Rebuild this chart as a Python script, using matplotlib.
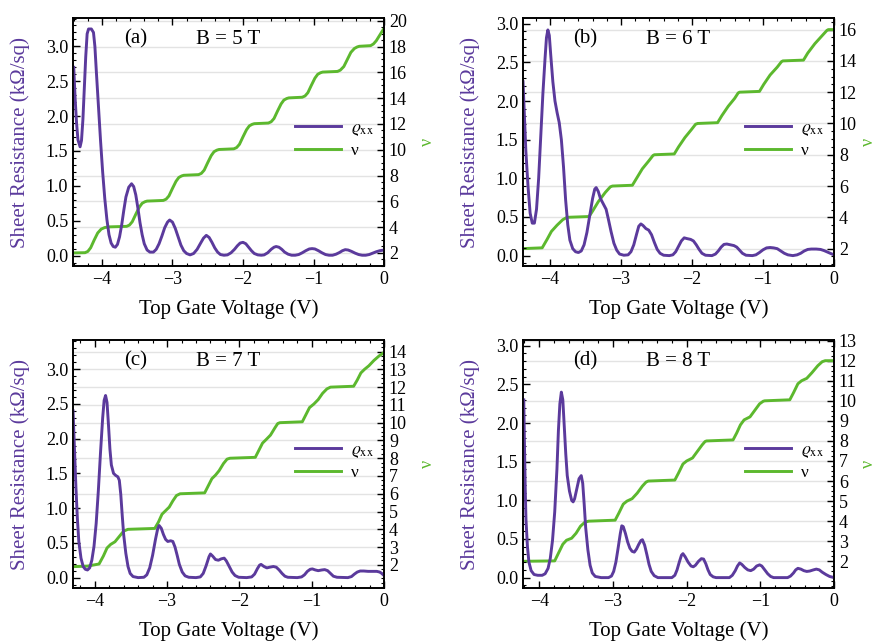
import numpy as np
import matplotlib
matplotlib.use("Agg")
import matplotlib.pyplot as plt
from matplotlib.ticker import MultipleLocator

plt.rcParams['font.family'] = ['Liberation Serif', 'DejaVu Serif']
plt.rcParams['mathtext.fontset'] = 'stix'

PURPLE = '#5b3a9c'
GREEN = '#5cb82e'

# ---- panel (a) B = 5 T ----
x_rho_a = [-4.40, -4.38, -4.36, -4.34, -4.31, -4.29, -4.27, -4.25, -4.23, -4.21, -4.19, -4.15,
           -4.12, -4.10, -4.08, -4.05, -4.02, -3.99, -3.96, -3.93, -3.90, -3.87, -3.84, -3.81,
           -3.78, -3.75, -3.72, -3.69, -3.66, -3.62, -3.58, -3.55, -3.52, -3.49, -3.46, -3.43,
           -3.40, -3.36, -3.32, -3.27, -3.23, -3.19, -3.15, -3.11, -3.07, -3.04, -3.00, -2.96,
           -2.92, -2.88, -2.84, -2.80, -2.75, -2.70, -2.65, -2.60, -2.56, -2.52, -2.48, -2.44,
           -2.40, -2.36, -2.32, -2.27, -2.22, -2.17, -2.12, -2.08, -2.04, -2.00, -1.96, -1.92,
           -1.88, -1.84, -1.79, -1.74, -1.70, -1.65, -1.60, -1.56, -1.53, -1.49, -1.45, -1.41,
           -1.36, -1.31, -1.26, -1.21, -1.16, -1.11, -1.06, -1.02, -0.98, -0.93, -0.88, -0.83,
           -0.78, -0.73, -0.68, -0.63, -0.59, -0.55, -0.51, -0.46, -0.41, -0.36, -0.31, -0.26,
           -0.21, -0.16, -0.11, -0.06, -0.03, 0.0]
rho_a = [2.7, 2.25, 1.9, 1.66, 1.56, 1.65, 1.95, 2.4, 2.85, 3.18, 3.25, 3.25,
         3.2, 3.0, 2.65, 2.15, 1.65, 1.2, 0.82, 0.52, 0.3, 0.18, 0.13, 0.12,
         0.16, 0.27, 0.44, 0.65, 0.84, 0.98, 1.03, 0.99, 0.87, 0.68, 0.47, 0.3,
         0.17, 0.08, 0.05, 0.05, 0.09, 0.17, 0.28, 0.4, 0.48, 0.51, 0.48, 0.39,
         0.27, 0.15, 0.07, 0.03, 0.01, 0.03, 0.09, 0.18, 0.25, 0.29, 0.26, 0.19,
         0.11, 0.05, 0.015, 0.005, 0.01, 0.04, 0.09, 0.14, 0.18, 0.19, 0.17, 0.12,
         0.07, 0.03, 0.01, 0.005, 0.01, 0.04, 0.09, 0.12, 0.13, 0.12, 0.09, 0.05,
         0.02, 0.005, 0.005, 0.015, 0.04, 0.07, 0.095, 0.10, 0.095, 0.07, 0.04, 0.015,
         0.005, 0.005, 0.02, 0.045, 0.07, 0.085, 0.08, 0.06, 0.035, 0.015, 0.005, 0.005,
         0.015, 0.035, 0.055, 0.07, 0.075, 0.078]
x_nu_a = [-4.41, -4.24, -4.20, -4.16, -4.11, -4.06, -4.01, -3.96, -3.90, -3.65, -3.61, -3.57,
          -3.52, -3.47, -3.43, -3.39, -3.36, -3.13, -3.09, -3.05, -3.00, -2.95, -2.91, -2.87,
          -2.84, -2.63, -2.59, -2.55, -2.50, -2.45, -2.41, -2.37, -2.34, -2.13, -2.09, -2.05,
          -2.00, -1.95, -1.91, -1.87, -1.84, -1.64, -1.60, -1.56, -1.51, -1.46, -1.42, -1.38,
          -1.35, -1.16, -1.12, -1.08, -1.03, -0.98, -0.94, -0.90, -0.87, -0.66, -0.62, -0.57,
          -0.52, -0.47, -0.42, -0.38, -0.35, -0.19, -0.15, -0.11, -0.07, -0.03, 0.0]
nu_a = [2.0, 2.02, 2.12, 2.4, 3.0, 3.55, 3.85, 3.97, 4.02, 4.06, 4.16, 4.42,
        5.0, 5.55, 5.85, 5.97, 6.02, 6.07, 6.17, 6.42, 7.0, 7.55, 7.85, 7.97,
        8.02, 8.07, 8.17, 8.42, 9.0, 9.55, 9.85, 9.97, 10.02, 10.07, 10.17, 10.42,
        11.0, 11.55, 11.85, 11.97, 12.02, 12.07, 12.17, 12.42, 13.0, 13.55, 13.85, 13.97,
        14.02, 14.07, 14.17, 14.42, 15.0, 15.55, 15.85, 15.97, 16.02, 16.07, 16.17, 16.45,
        17.0, 17.55, 17.85, 17.97, 18.02, 18.07, 18.2, 18.45, 18.8, 19.15, 19.4]

# ---- panel (b) B = 6 T ----
x_rho_b = [-4.38, -4.36, -4.34, -4.31, -4.28, -4.25, -4.22, -4.19, -4.16, -4.13, -4.10, -4.07,
           -4.05, -4.03, -4.01, -3.99, -3.96, -3.93, -3.90, -3.87, -3.84, -3.81, -3.78, -3.75,
           -3.72, -3.68, -3.64, -3.60, -3.56, -3.52, -3.48, -3.44, -3.40, -3.37, -3.35, -3.32,
           -3.29, -3.25, -3.21, -3.18, -3.14, -3.10, -3.06, -3.02, -2.96, -2.90, -2.86, -2.82,
           -2.78, -2.75, -2.72, -2.69, -2.65, -2.61, -2.57, -2.53, -2.49, -2.45, -2.40, -2.32,
           -2.27, -2.23, -2.19, -2.15, -2.11, -2.07, -2.02, -1.98, -1.94, -1.90, -1.86, -1.81,
           -1.72, -1.67, -1.63, -1.59, -1.55, -1.51, -1.46, -1.41, -1.37, -1.33, -1.29, -1.24,
           -1.15, -1.10, -1.05, -1.00, -0.95, -0.90, -0.85, -0.80, -0.75, -0.70, -0.65, -0.58,
           -0.52, -0.47, -0.42, -0.37, -0.32, -0.25, -0.19, -0.14, -0.09, -0.04, 0.0]
rho_b = [2.25, 1.8, 1.35, 0.9, 0.55, 0.42, 0.42, 0.6, 1.0, 1.55, 2.1, 2.55,
         2.82, 2.92, 2.85, 2.6, 2.25, 2.0, 1.85, 1.72, 1.5, 1.15, 0.72, 0.4,
         0.2, 0.09, 0.05, 0.04, 0.06, 0.14, 0.3, 0.52, 0.74, 0.86, 0.88, 0.83,
         0.74, 0.67, 0.6, 0.48, 0.31, 0.16, 0.07, 0.02, 0.005, 0.01, 0.05, 0.14,
         0.28, 0.38, 0.41, 0.39, 0.35, 0.33, 0.27, 0.17, 0.08, 0.03, 0.005, 0.0,
         0.01, 0.05, 0.12, 0.19, 0.23, 0.22, 0.21, 0.19, 0.14, 0.08, 0.03, 0.005,
         0.0, 0.02, 0.06, 0.11, 0.145, 0.15, 0.14, 0.13, 0.11, 0.07, 0.03, 0.005,
         0.0, 0.01, 0.04, 0.075, 0.1, 0.105, 0.1, 0.09, 0.06, 0.03, 0.01, 0.0,
         0.01, 0.03, 0.06, 0.08, 0.085, 0.085, 0.08, 0.065, 0.045, 0.025, 0.01]
x_nu_b = [-4.38, -4.11, -4.04, -3.98, -3.90, -3.82, -3.76, -3.45, -3.40, -3.32, -3.22, -3.15,
          -3.12, -2.84, -2.78, -2.70, -2.61, -2.55, -2.53, -2.25, -2.19, -2.10, -2.01, -1.95,
          -1.92, -1.64, -1.58, -1.49, -1.40, -1.35, -1.33, -1.05, -0.99, -0.90, -0.80, -0.74,
          -0.72, -0.43, -0.37, -0.27, -0.17, -0.10, -0.08, 0.0]
nu_b = [2.0, 2.05, 2.6, 3.1, 3.5, 3.85, 4.0, 4.05, 4.4, 5.0, 5.6, 5.95,
        6.0, 6.05, 6.5, 7.1, 7.6, 7.95, 8.0, 8.05, 8.5, 9.1, 9.6, 9.95,
        10.0, 10.05, 10.5, 11.1, 11.6, 11.95, 12.0, 12.05, 12.5, 13.1, 13.6, 13.95,
        14.0, 14.05, 14.5, 15.1, 15.6, 15.95, 16.0, 16.0]

# ---- panel (c) B = 7 T ----
x_rho_c = [-4.30, -4.28, -4.26, -4.24, -4.22, -4.19, -4.16, -4.13, -4.10, -4.07, -4.04, -4.01,
           -3.98, -3.95, -3.92, -3.89, -3.87, -3.85, -3.83, -3.81, -3.79, -3.77, -3.74, -3.71,
           -3.68, -3.66, -3.64, -3.62, -3.60, -3.57, -3.54, -3.51, -3.47, -3.40, -3.32, -3.28,
           -3.24, -3.20, -3.16, -3.13, -3.11, -3.08, -3.05, -3.02, -2.99, -2.95, -2.92, -2.89,
           -2.86, -2.83, -2.79, -2.75, -2.70, -2.60, -2.54, -2.50, -2.46, -2.42, -2.40, -2.37,
           -2.33, -2.29, -2.25, -2.21, -2.18, -2.14, -2.10, -2.06, -2.01, -1.90, -1.83, -1.79,
           -1.75, -1.72, -1.70, -1.66, -1.62, -1.58, -1.53, -1.49, -1.45, -1.41, -1.37, -1.33,
           -1.20, -1.14, -1.10, -1.06, -1.02, -0.99, -0.95, -0.91, -0.86, -0.82, -0.78, -0.74,
           -0.70, -0.65, -0.50, -0.45, -0.41, -0.37, -0.33, -0.28, -0.22, -0.16, -0.10, -0.06,
           -0.03, 0.0]
rho_c = [2.4, 1.85, 1.3, 0.85, 0.52, 0.28, 0.16, 0.12, 0.11, 0.14, 0.25, 0.45,
         0.78, 1.25, 1.8, 2.3, 2.55, 2.62, 2.52, 2.2, 1.85, 1.62, 1.5, 1.47,
         1.45, 1.4, 1.2, 0.9, 0.62, 0.35, 0.16, 0.06, 0.015, 0.0, 0.005, 0.04,
         0.14, 0.32, 0.55, 0.7, 0.75, 0.71, 0.62, 0.55, 0.52, 0.53, 0.52, 0.44,
         0.32, 0.19, 0.08, 0.025, 0.005, 0.0, 0.01, 0.06, 0.17, 0.3, 0.34, 0.31,
         0.26, 0.25, 0.27, 0.28, 0.24, 0.16, 0.08, 0.03, 0.005, 0.0, 0.01, 0.05,
         0.13, 0.18, 0.19, 0.16, 0.14, 0.15, 0.16, 0.15, 0.11, 0.06, 0.02, 0.005,
         0.0, 0.01, 0.04, 0.09, 0.12, 0.125, 0.11, 0.1, 0.11, 0.115, 0.1, 0.06,
         0.02, 0.005, 0.0, 0.015, 0.05, 0.08, 0.095, 0.095, 0.09, 0.09, 0.09, 0.08,
         0.06, 0.03]
x_nu_c = [-4.30, -4.10, -3.94, -3.88, -3.83, -3.78, -3.72, -3.66, -3.60, -3.54, -3.17, -3.12,
          -3.07, -3.02, -2.97, -2.92, -2.87, -2.82, -2.48, -2.43, -2.38, -2.33, -2.28, -2.22,
          -2.17, -2.13, -1.78, -1.73, -1.68, -1.63, -1.57, -1.51, -1.47, -1.44, -1.13, -1.08,
          -1.03, -0.97, -0.91, -0.85, -0.79, -0.74, -0.42, -0.37, -0.32, -0.27, -0.21, -0.14,
          -0.07, 0.0]
nu_c = [1.9, 1.93, 2.05, 2.5, 2.95, 3.15, 3.3, 3.6, 3.9, 4.0, 4.05, 4.4,
        4.85, 5.05, 5.25, 5.6, 5.9, 6.0, 6.05, 6.45, 6.85, 7.05, 7.3, 7.7,
        7.95, 8.0, 8.05, 8.45, 8.85, 9.05, 9.3, 9.7, 9.95, 10.0, 10.05, 10.45,
        10.85, 11.05, 11.3, 11.65, 11.9, 12.0, 12.05, 12.4, 12.8, 13.0, 13.2, 13.5,
        13.75, 13.95]

# ---- panel (d) B = 8 T ----
x_rho_d = [-4.21, -4.20, -4.19, -4.18, -4.16, -4.14, -4.11, -4.07, -4.02, -3.96, -3.92, -3.88,
           -3.85, -3.82, -3.79, -3.76, -3.74, -3.72, -3.70, -3.68, -3.66, -3.64, -3.62, -3.59,
           -3.56, -3.54, -3.52, -3.49, -3.46, -3.43, -3.41, -3.39, -3.37, -3.34, -3.31, -3.28,
           -3.24, -3.16, -3.06, -3.02, -2.99, -2.96, -2.93, -2.90, -2.88, -2.86, -2.83, -2.80,
           -2.77, -2.74, -2.71, -2.68, -2.65, -2.62, -2.60, -2.57, -2.54, -2.51, -2.48, -2.44,
           -2.39, -2.20, -2.16, -2.13, -2.10, -2.07, -2.05, -2.02, -1.98, -1.94, -1.91, -1.88,
           -1.84, -1.80, -1.77, -1.74, -1.71, -1.68, -1.64, -1.60, -1.42, -1.38, -1.34, -1.31,
           -1.28, -1.25, -1.21, -1.17, -1.13, -1.09, -1.05, -1.01, -0.98, -0.94, -0.90, -0.86,
           -0.82, -0.63, -0.59, -0.55, -0.52, -0.49, -0.45, -0.41, -0.37, -0.33, -0.28, -0.24,
           -0.20, -0.16, -0.11, -0.06, 0.0]
rho_d = [2.3, 1.7, 1.15, 0.75, 0.4, 0.2, 0.09, 0.04, 0.03, 0.03, 0.05, 0.12,
         0.25, 0.48, 0.85, 1.4, 1.9, 2.25, 2.4, 2.3, 1.95, 1.6, 1.32, 1.12,
         1.0, 0.98, 1.02, 1.15, 1.28, 1.32, 1.22, 0.95, 0.65, 0.36, 0.16, 0.06,
         0.015, 0.0, 0.0, 0.02, 0.08, 0.2, 0.38, 0.57, 0.67, 0.66, 0.57, 0.46,
         0.38, 0.34, 0.33, 0.37, 0.43, 0.48, 0.49, 0.42, 0.3, 0.17, 0.08, 0.025,
         0.0, 0.0, 0.03, 0.1, 0.2, 0.29, 0.31, 0.27, 0.2, 0.15, 0.14, 0.16,
         0.21, 0.245, 0.24, 0.18, 0.1, 0.04, 0.01, 0.0, 0.0, 0.03, 0.09, 0.15,
         0.19, 0.17, 0.13, 0.1, 0.09, 0.11, 0.15, 0.165, 0.15, 0.1, 0.05, 0.015,
         0.0, 0.0, 0.02, 0.06, 0.1, 0.12, 0.11, 0.09, 0.08, 0.085, 0.1, 0.11,
         0.1, 0.07, 0.04, 0.015, 0.0]
x_nu_d = [-4.21, -3.79, -3.74, -3.68, -3.63, -3.56, -3.50, -3.44, -3.38, -3.33, -2.97, -2.92,
          -2.86, -2.81, -2.74, -2.67, -2.60, -2.55, -2.52, -2.16, -2.11, -2.05, -2.00, -1.92,
          -1.86, -1.79, -1.75, -1.73, -1.37, -1.32, -1.27, -1.22, -1.14, -1.08, -1.01, -0.96,
          -0.94, -0.60, -0.55, -0.49, -0.44, -0.37, -0.30, -0.22, -0.16, -0.12, 0.0]
nu_d = [2.0, 2.02, 2.4, 2.85, 3.05, 3.15, 3.4, 3.75, 3.95, 4.0, 4.05, 4.4,
        4.85, 5.0, 5.12, 5.4, 5.75, 5.95, 6.0, 6.05, 6.4, 6.85, 7.0, 7.15,
        7.45, 7.8, 7.97, 8.0, 8.05, 8.4, 8.8, 9.05, 9.2, 9.5, 9.85, 9.98,
        10.0, 10.05, 10.4, 10.85, 11.0, 11.12, 11.4, 11.75, 11.95, 12.0, 12.0]

panels = [
    dict(tag='(a)', field='B = 5 T', xr=x_rho_a, r=rho_a, xn=x_nu_a, n=nu_a,
         xlim=(-4.41, 0), ylim=(-0.149, 3.407), nlim=(0.99, 20.21), nticks=range(2, 21, 2),
         nminor=0.5, rect=(0.0828, 0.587, 0.3526, 0.385), nu_x=1.112),
    dict(tag='(b)', field='B = 6 T', xr=x_rho_b, r=rho_b, xn=x_nu_b, n=nu_b,
         xlim=(-4.38, 0), ylim=(-0.134, 3.074), nlim=(0.89, 16.74), nticks=range(2, 17, 2),
         nminor=0.5, rect=(0.593, 0.587, 0.3526, 0.385), nu_x=1.082),
    dict(tag='(c)', field='B = 7 T', xr=x_rho_c, r=rho_c, xn=x_nu_c, n=nu_c,
         xlim=(-4.30, 0), ylim=(-0.149, 3.418), nlim=(0.70, 14.65), nticks=range(2, 15),
         nminor=0.25, rect=(0.0828, 0.087, 0.3526, 0.385), nu_x=1.112),
    dict(tag='(d)', field='B = 8 T', xr=x_rho_d, r=rho_d, xn=x_nu_d, n=nu_d,
         xlim=(-4.22, 0), ylim=(-0.134, 3.074), nlim=(0.67, 13.03), nticks=range(2, 14),
         nminor=0.25, rect=(0.593, 0.087, 0.3526, 0.385), nu_x=1.082),
]

fig = plt.figure(figsize=(8.82, 6.44), dpi=100)

for p in panels:
    ax = fig.add_axes(p['rect'])
    tw = ax.twinx()
    # keep rho axis on top so the nu grid sits behind the curves
    ax.set_zorder(tw.get_zorder() + 1)
    ax.patch.set_visible(False)

    l1, = ax.plot(p['xr'], p['r'], color=PURPLE, lw=2.1, label=r'$\varrho_{\mathrm{xx}}$')
    l2, = tw.plot(p['xn'], p['n'], color=GREEN, lw=2.1, label='ν')

    ax.set_xlim(*p['xlim'])
    ax.set_ylim(*p['ylim'])
    tw.set_ylim(*p['nlim'])
    tw.set_yticks(list(p['nticks']))
    tw.yaxis.set_minor_locator(MultipleLocator(p['nminor']))
    ax.yaxis.set_major_locator(MultipleLocator(0.5))
    ax.yaxis.set_minor_locator(MultipleLocator(0.1))
    ax.xaxis.set_major_locator(MultipleLocator(1))
    ax.xaxis.set_minor_locator(MultipleLocator(0.2))

    tw.grid(True, axis='y', color='#e3e3e3', lw=1.0)

    ax.tick_params(which='both', direction='in', top=True, right=False, labelsize=13)
    ax.tick_params(which='major', length=5, width=1)
    ax.tick_params(which='minor', length=2.5, width=0.8)
    tw.tick_params(which='both', direction='in', labelsize=13)
    tw.tick_params(which='major', length=5, width=1)
    tw.tick_params(which='minor', length=2.5, width=0.8)
    for a in (ax, tw):
        for s in a.spines.values():
            s.set_linewidth(1.2)

    ax.set_xlabel('Top Gate Voltage (V)', fontsize=15)
    ax.xaxis.set_label_coords(0.5, -0.135)
    ax.set_ylabel('Sheet Resistance (kΩ/sq)', fontsize=15, color=PURPLE)
    ax.yaxis.set_label_coords(-0.138, 0.5)
    tw.set_ylabel('ν', fontsize=13, color=GREEN)
    tw.yaxis.set_label_coords(p['nu_x'], 0.5)

    ax.text(0.2, 0.915, p['tag'], transform=ax.transAxes, ha='center', va='center', fontsize=15)
    ax.text(0.5, 0.915, p['field'], transform=ax.transAxes, ha='center', va='center', fontsize=15)

    ax.legend(handles=[l1, l2], loc='center left', bbox_to_anchor=(0.665, 0.51), frameon=False,
              fontsize=12.5, handlelength=2.6, handletextpad=0.6, labelspacing=0.3)

fig.savefig('out.png', dpi=100)
